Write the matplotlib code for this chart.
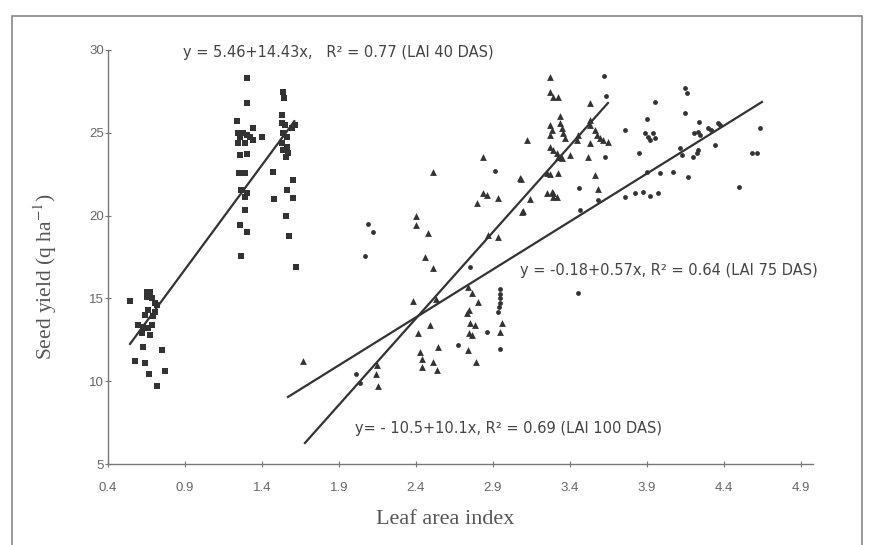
import matplotlib.pyplot as plt
from matplotlib.patches import Rectangle

# LAI 40 DAS (squares)
sq_x = [0.543, 0.653, 0.673, 0.653, 0.686, 0.705, 0.718, 0.660, 0.705, 0.640,
        0.692, 0.595, 0.627, 0.660, 0.686, 0.621, 0.673, 0.627, 0.751, 0.575,
        0.640, 0.770, 0.666, 0.718,
        1.303, 1.303, 1.238, 1.244, 1.257, 1.277, 1.303, 1.322, 1.342, 1.342,
        1.400, 1.244, 1.290, 1.257, 1.303, 1.251, 1.290, 1.264, 1.303, 1.290,
        1.290, 1.257, 1.303, 1.264,
        1.536, 1.543, 1.530, 1.530, 1.549, 1.536, 1.562, 1.595, 1.614, 1.530,
        1.562, 1.536, 1.569, 1.556, 1.471, 1.601, 1.562, 1.601, 1.478, 1.556,
        1.575, 1.621]
sq_y = [14.84, 15.39, 15.39, 15.08, 15.02, 14.72, 14.60, 14.30, 14.18, 14.00,
        13.94, 13.39, 13.27, 13.21, 13.39, 12.91, 12.79, 12.07, 11.88, 11.22,
        11.10, 10.62, 10.43, 9.71,
        28.31, 26.80, 25.71, 24.99, 24.75, 24.99, 24.87, 24.75, 24.57, 25.29,
        24.75, 24.38, 24.38, 23.66, 23.72, 22.57, 22.57, 21.55, 21.36, 21.12,
        20.34, 19.43, 19.01, 17.56,
        27.46, 27.10, 26.07, 25.59, 25.47, 24.99, 24.75, 25.29, 25.47, 24.38,
        24.14, 23.96, 23.78, 23.54, 22.63, 22.15, 21.55, 21.06, 21.00, 19.98,
        18.77, 16.90]

# LAI 100 DAS (triangles)
tri_x = [1.666, 2.400, 2.400, 2.478, 2.458, 2.510, 2.381, 2.510, 2.835, 3.082,
         2.796, 2.835, 2.861, 2.932, 3.140, 3.095, 2.868, 2.932, 2.738, 2.764,
         2.803, 2.731, 2.744, 2.751, 2.783, 2.744, 2.764, 2.945, 2.958, 2.738,
         2.790, 2.413, 2.491, 2.543, 2.426, 2.439, 2.439, 2.510, 2.536, 2.140,
         2.147, 2.153, 2.530, 3.270, 3.322, 3.251, 3.290, 3.316, 3.335,
         3.270, 3.270, 3.290, 3.322, 3.530, 3.335, 3.270, 3.283, 3.270, 3.335,
         3.348, 3.354, 3.367, 3.121, 3.452, 3.445, 3.530, 3.530, 3.562, 3.575,
         3.595, 3.614, 3.647, 3.530, 3.270, 3.290, 3.316, 3.322, 3.348, 3.400,
         3.517, 3.251, 3.562, 3.075, 3.283, 3.290, 3.582, 3.088]
tri_y = [11.22, 19.98, 19.43, 18.95, 17.50, 16.84, 14.84, 22.63, 23.54, 22.21,
         20.76, 21.36, 21.24, 21.06, 21.00, 20.28, 18.83, 18.71, 15.69, 15.33,
         14.78, 14.12, 14.30, 13.51, 13.39, 12.91, 12.79, 12.97, 13.51, 11.88,
         11.16, 12.91, 13.39, 12.07, 11.76, 11.34, 10.86, 11.16, 10.68, 10.43,
         10.98, 9.71, 14.96, 22.51, 22.57, 21.36, 21.36, 21.12, 23.54,
         28.37, 27.46, 27.16, 27.16, 26.80, 26.01, 25.47, 25.17, 24.87, 25.59,
         25.29, 24.99, 24.69, 24.57, 24.87, 24.57, 25.77, 25.47, 25.17, 24.87,
         24.69, 24.57, 24.44, 24.38, 24.14, 23.96, 23.78, 23.54, 23.48, 23.66,
         23.54, 22.57, 22.45, 22.27, 21.43, 21.12, 21.61, 20.22]

# LAI 75 DAS (dots)
dot_x = [2.088, 2.121, 2.069, 2.010, 2.036, 2.913, 2.751, 2.861, 2.945, 2.673,
         2.945, 2.945, 2.945, 2.945, 2.939, 2.932,
         3.621, 3.634, 3.757, 3.848, 3.900, 3.952, 3.887, 3.906, 3.939, 3.952,
         3.919, 4.147, 4.160, 4.147, 4.238, 4.205, 4.231, 4.244, 4.296, 4.315,
         4.361, 4.374, 4.342, 4.199, 4.225, 4.231, 4.114, 4.127, 4.069, 3.984,
         3.900, 4.166, 3.757, 3.822, 3.874, 3.919, 3.971, 4.634, 4.582, 4.614,
         4.497, 3.458, 3.465, 3.582, 3.627, 3.452]
dot_y = [19.49, 19.01, 17.56, 10.43, 9.89, 22.69, 16.90, 12.97, 11.94, 12.19,
         15.57, 15.27, 15.02, 14.72, 14.48, 14.18,
         28.43, 27.22, 25.17, 23.78, 25.83, 26.86, 24.99, 24.75, 24.99, 24.69,
         24.57, 27.71, 27.40, 26.20, 25.65, 24.99, 25.05, 24.87, 25.29, 25.17,
         25.59, 25.47, 24.26, 23.54, 23.78, 23.96, 24.08, 23.66, 22.63, 22.57,
         22.63, 22.33, 21.12, 21.36, 21.43, 21.18, 21.36, 25.29, 23.78, 23.78,
         21.73, 21.67, 20.34, 20.94, 23.54, 15.33]

# fitted lines as drawn (end points)
fit40_x = [0.543, 1.61]
fit40_y = [12.25, 25.7]
fit75_x = [1.569, 4.647]
fit75_y = [9.05, 26.86]
fit100_x = [1.679, 3.647]
fit100_y = [6.27, 26.8]

xticks = [0.4, 0.9, 1.4, 1.9, 2.4, 2.9, 3.4, 3.9, 4.4, 4.9]
yticks = [5, 10, 15, 20, 25, 30]

ink = '#333333'
grey = '#666666'

plt.rcParams['mathtext.fontset'] = 'stix'

fig = plt.figure(figsize=(8.76, 5.45), dpi=100)
ax = fig.add_axes([0.1233, 0.1486, 0.8047, 0.7597])

ax.plot(fit40_x, fit40_y, color=ink, lw=1.6)
ax.plot(fit75_x, fit75_y, color=ink, lw=1.6)
ax.plot(fit100_x, fit100_y, color=ink, lw=1.6)

ax.scatter(sq_x, sq_y, marker='s', s=13, color=ink, linewidths=0)
ax.scatter(tri_x, tri_y, marker='^', s=24, color=ink, linewidths=0)
ax.scatter(dot_x, dot_y, marker='o', s=12, color=ink, linewidths=0)

ax.set_xlim(0.4, 4.978)
ax.set_ylim(5, 30)
ax.set_xticks(xticks)
ax.set_xticklabels([f'{v:.1f}' for v in xticks])
ax.set_yticks(yticks)

for side in ['top', 'right']:
    ax.spines[side].set_visible(False)
for side in ['left', 'bottom']:
    ax.spines[side].set_color('#777777')
    ax.spines[side].set_linewidth(1.0)

ax.tick_params(axis='x', direction='inout', length=4, color='#777777',
               labelsize=9.5, labelcolor=grey, pad=11)
ax.tick_params(axis='y', direction='inout', length=4, color='#777777',
               labelsize=9.5, labelcolor=grey, pad=1)
for lab in ax.get_xticklabels() + ax.get_yticklabels():
    lab.set_fontfamily('Liberation Sans')

txt = dict(fontsize=10.5, color='#444444', family='DejaVu Sans',
           va='center', ha='left')
fig.text(183 / 876, 1 - 52 / 545, 'y = 5.46+14.43x,   R\u00b2 = 0.77 (LAI 40 DAS)', **txt)
fig.text(520 / 876, 1 - 270 / 545, 'y = -0.18+0.57x, R\u00b2 = 0.64 (LAI 75 DAS)', **txt)
fig.text(355 / 876, 1 - 428 / 545, 'y= - 10.5+10.1x, R\u00b2 = 0.69 (LAI 100 DAS)', **txt)

fig.text(45 / 876, 1 - 277 / 545, r'Seed yield (q ha$^{-1}$)', rotation=90,
         fontsize=15.5, color='#555555', family='Liberation Serif',
         ha='center', va='center')
fig.text(445 / 876, 1 - 520 / 545, 'Leaf area index', fontsize=16,
         color='#555555', family='Liberation Serif', ha='center', va='center')

# outer frame of the scanned figure
fig.patches.append(Rectangle((12 / 876, -0.05), 850 / 876, 1 - 16 / 545 + 0.05,
                             transform=fig.transFigure, fill=False,
                             edgecolor='#888888', lw=1.2))

fig.savefig('out.png', dpi=100)
